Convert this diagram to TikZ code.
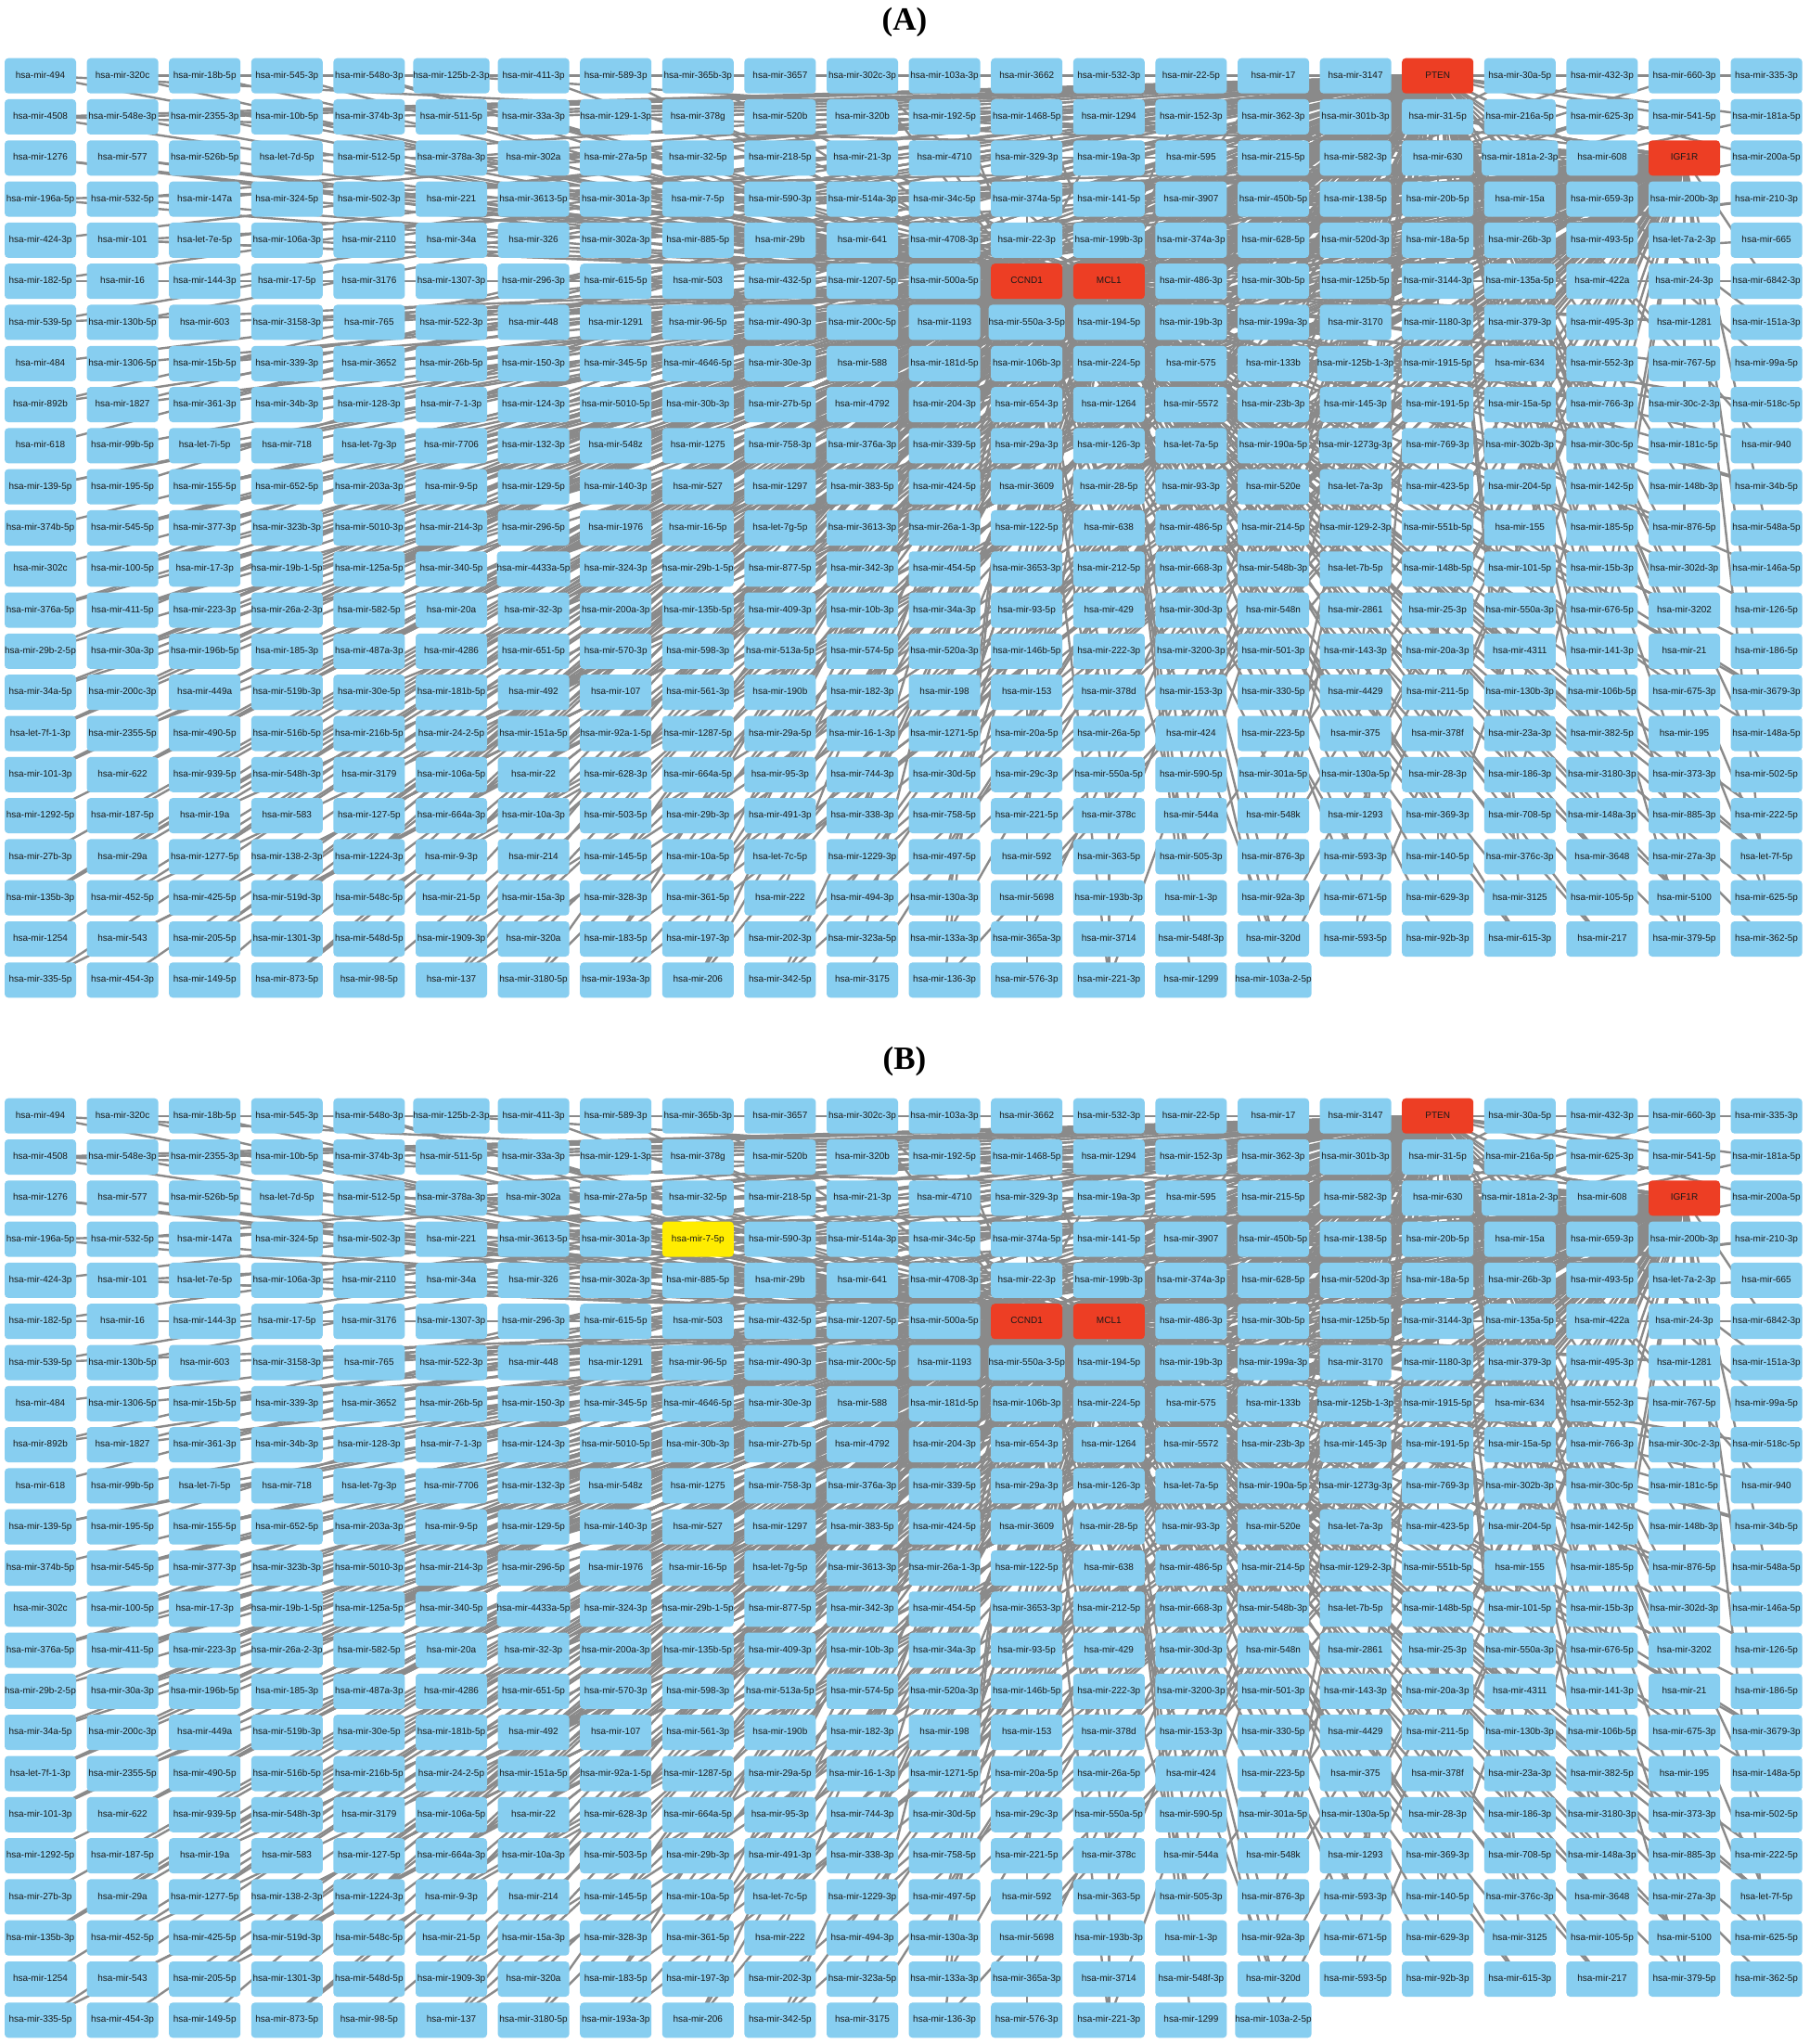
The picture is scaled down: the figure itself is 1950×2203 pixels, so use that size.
\documentclass[tikz,border=0pt]{standalone}
\usepackage{fontspec}
\setmainfont{Liberation Sans}
\newfontfamily\titlefont{Liberation Serif}
\usetikzlibrary{backgrounds}
\definecolor{mirblue}{RGB}{135,206,240}
\definecolor{tgtred}{RGB}{237,62,36}
\definecolor{hlyellow}{RGB}{255,236,0}
\definecolor{edgegray}{RGB}{138,138,138}
\def\mirlist{%
hsa-mir-494, hsa-mir-320c, hsa-mir-18b-5p, hsa-mir-545-3p, hsa-mir-548o-3p, hsa-mir-125b-2-3p, hsa-mir-411-3p, hsa-mir-589-3p, hsa-mir-365b-3p, hsa-mir-3657, hsa-mir-302c-3p, hsa-mir-103a-3p, hsa-mir-3662, hsa-mir-532-3p, hsa-mir-22-5p, hsa-mir-17, hsa-mir-3147, PTEN, hsa-mir-30a-5p, hsa-mir-432-3p, hsa-mir-660-3p, hsa-mir-335-3p,
hsa-mir-4508, hsa-mir-548e-3p, hsa-mir-2355-3p, hsa-mir-10b-5p, hsa-mir-374b-3p, hsa-mir-511-5p, hsa-mir-33a-3p, hsa-mir-129-1-3p, hsa-mir-378g, hsa-mir-520b, hsa-mir-320b, hsa-mir-192-5p, hsa-mir-1468-5p, hsa-mir-1294, hsa-mir-152-3p, hsa-mir-362-3p, hsa-mir-301b-3p, hsa-mir-31-5p, hsa-mir-216a-5p, hsa-mir-625-3p, hsa-mir-541-5p, hsa-mir-181a-5p,
hsa-mir-1276, hsa-mir-577, hsa-mir-526b-5p, hsa-let-7d-5p, hsa-mir-512-5p, hsa-mir-378a-3p, hsa-mir-302a, hsa-mir-27a-5p, hsa-mir-32-5p, hsa-mir-218-5p, hsa-mir-21-3p, hsa-mir-4710, hsa-mir-329-3p, hsa-mir-19a-3p, hsa-mir-595, hsa-mir-215-5p, hsa-mir-582-3p, hsa-mir-630, hsa-mir-181a-2-3p, hsa-mir-608, IGF1R, hsa-mir-200a-5p,
hsa-mir-196a-5p, hsa-mir-532-5p, hsa-mir-147a, hsa-mir-324-5p, hsa-mir-502-3p, hsa-mir-221, hsa-mir-3613-5p, hsa-mir-301a-3p, hsa-mir-7-5p, hsa-mir-590-3p, hsa-mir-514a-3p, hsa-mir-34c-5p, hsa-mir-374a-5p, hsa-mir-141-5p, hsa-mir-3907, hsa-mir-450b-5p, hsa-mir-138-5p, hsa-mir-20b-5p, hsa-mir-15a, hsa-mir-659-3p, hsa-mir-200b-3p, hsa-mir-210-3p,
hsa-mir-424-3p, hsa-mir-101, hsa-let-7e-5p, hsa-mir-106a-3p, hsa-mir-2110, hsa-mir-34a, hsa-mir-326, hsa-mir-302a-3p, hsa-mir-885-5p, hsa-mir-29b, hsa-mir-641, hsa-mir-4708-3p, hsa-mir-22-3p, hsa-mir-199b-3p, hsa-mir-374a-3p, hsa-mir-628-5p, hsa-mir-520d-3p, hsa-mir-18a-5p, hsa-mir-26b-3p, hsa-mir-493-5p, hsa-let-7a-2-3p, hsa-mir-665,
hsa-mir-182-5p, hsa-mir-16, hsa-mir-144-3p, hsa-mir-17-5p, hsa-mir-3176, hsa-mir-1307-3p, hsa-mir-296-3p, hsa-mir-615-5p, hsa-mir-503, hsa-mir-432-5p, hsa-mir-1207-5p, hsa-mir-500a-5p, CCND1, MCL1, hsa-mir-486-3p, hsa-mir-30b-5p, hsa-mir-125b-5p, hsa-mir-3144-3p, hsa-mir-135a-5p, hsa-mir-422a, hsa-mir-24-3p, hsa-mir-6842-3p,
hsa-mir-539-5p, hsa-mir-130b-5p, hsa-mir-603, hsa-mir-3158-3p, hsa-mir-765, hsa-mir-522-3p, hsa-mir-448, hsa-mir-1291, hsa-mir-96-5p, hsa-mir-490-3p, hsa-mir-200c-5p, hsa-mir-1193, hsa-mir-550a-3-5p, hsa-mir-194-5p, hsa-mir-19b-3p, hsa-mir-199a-3p, hsa-mir-3170, hsa-mir-1180-3p, hsa-mir-379-3p, hsa-mir-495-3p, hsa-mir-1281, hsa-mir-151a-3p,
hsa-mir-484, hsa-mir-1306-5p, hsa-mir-15b-5p, hsa-mir-339-3p, hsa-mir-3652, hsa-mir-26b-5p, hsa-mir-150-3p, hsa-mir-345-5p, hsa-mir-4646-5p, hsa-mir-30e-3p, hsa-mir-588, hsa-mir-181d-5p, hsa-mir-106b-3p, hsa-mir-224-5p, hsa-mir-575, hsa-mir-133b, hsa-mir-125b-1-3p, hsa-mir-1915-5p, hsa-mir-634, hsa-mir-552-3p, hsa-mir-767-5p, hsa-mir-99a-5p,
hsa-mir-892b, hsa-mir-1827, hsa-mir-361-3p, hsa-mir-34b-3p, hsa-mir-128-3p, hsa-mir-7-1-3p, hsa-mir-124-3p, hsa-mir-5010-5p, hsa-mir-30b-3p, hsa-mir-27b-5p, hsa-mir-4792, hsa-mir-204-3p, hsa-mir-654-3p, hsa-mir-1264, hsa-mir-5572, hsa-mir-23b-3p, hsa-mir-145-3p, hsa-mir-191-5p, hsa-mir-15a-5p, hsa-mir-766-3p, hsa-mir-30c-2-3p, hsa-mir-518c-5p,
hsa-mir-618, hsa-mir-99b-5p, hsa-let-7i-5p, hsa-mir-718, hsa-let-7g-3p, hsa-mir-7706, hsa-mir-132-3p, hsa-mir-548z, hsa-mir-1275, hsa-mir-758-3p, hsa-mir-376a-3p, hsa-mir-339-5p, hsa-mir-29a-3p, hsa-mir-126-3p, hsa-let-7a-5p, hsa-mir-190a-5p, hsa-mir-1273g-3p, hsa-mir-769-3p, hsa-mir-302b-3p, hsa-mir-30c-5p, hsa-mir-181c-5p, hsa-mir-940,
hsa-mir-139-5p, hsa-mir-195-5p, hsa-mir-155-5p, hsa-mir-652-5p, hsa-mir-203a-3p, hsa-mir-9-5p, hsa-mir-129-5p, hsa-mir-140-3p, hsa-mir-527, hsa-mir-1297, hsa-mir-383-5p, hsa-mir-424-5p, hsa-mir-3609, hsa-mir-28-5p, hsa-mir-93-3p, hsa-mir-520e, hsa-let-7a-3p, hsa-mir-423-5p, hsa-mir-204-5p, hsa-mir-142-5p, hsa-mir-148b-3p, hsa-mir-34b-5p,
hsa-mir-374b-5p, hsa-mir-545-5p, hsa-mir-377-3p, hsa-mir-323b-3p, hsa-mir-5010-3p, hsa-mir-214-3p, hsa-mir-296-5p, hsa-mir-1976, hsa-mir-16-5p, hsa-let-7g-5p, hsa-mir-3613-3p, hsa-mir-26a-1-3p, hsa-mir-122-5p, hsa-mir-638, hsa-mir-486-5p, hsa-mir-214-5p, hsa-mir-129-2-3p, hsa-mir-551b-5p, hsa-mir-155, hsa-mir-185-5p, hsa-mir-876-5p, hsa-mir-548a-5p,
hsa-mir-302c, hsa-mir-100-5p, hsa-mir-17-3p, hsa-mir-19b-1-5p, hsa-mir-125a-5p, hsa-mir-340-5p, hsa-mir-4433a-5p, hsa-mir-324-3p, hsa-mir-29b-1-5p, hsa-mir-877-5p, hsa-mir-342-3p, hsa-mir-454-5p, hsa-mir-3653-3p, hsa-mir-212-5p, hsa-mir-668-3p, hsa-mir-548b-3p, hsa-let-7b-5p, hsa-mir-148b-5p, hsa-mir-101-5p, hsa-mir-15b-3p, hsa-mir-302d-3p, hsa-mir-146a-5p,
hsa-mir-376a-5p, hsa-mir-411-5p, hsa-mir-223-3p, hsa-mir-26a-2-3p, hsa-mir-582-5p, hsa-mir-20a, hsa-mir-32-3p, hsa-mir-200a-3p, hsa-mir-135b-5p, hsa-mir-409-3p, hsa-mir-10b-3p, hsa-mir-34a-3p, hsa-mir-93-5p, hsa-mir-429, hsa-mir-30d-3p, hsa-mir-548n, hsa-mir-2861, hsa-mir-25-3p, hsa-mir-550a-3p, hsa-mir-676-5p, hsa-mir-3202, hsa-mir-126-5p,
hsa-mir-29b-2-5p, hsa-mir-30a-3p, hsa-mir-196b-5p, hsa-mir-185-3p, hsa-mir-487a-3p, hsa-mir-4286, hsa-mir-651-5p, hsa-mir-570-3p, hsa-mir-598-3p, hsa-mir-513a-5p, hsa-mir-574-5p, hsa-mir-520a-3p, hsa-mir-146b-5p, hsa-mir-222-3p, hsa-mir-3200-3p, hsa-mir-501-3p, hsa-mir-143-3p, hsa-mir-20a-3p, hsa-mir-4311, hsa-mir-141-3p, hsa-mir-21, hsa-mir-186-5p,
hsa-mir-34a-5p, hsa-mir-200c-3p, hsa-mir-449a, hsa-mir-519b-3p, hsa-mir-30e-5p, hsa-mir-181b-5p, hsa-mir-492, hsa-mir-107, hsa-mir-561-3p, hsa-mir-190b, hsa-mir-182-3p, hsa-mir-198, hsa-mir-153, hsa-mir-378d, hsa-mir-153-3p, hsa-mir-330-5p, hsa-mir-4429, hsa-mir-211-5p, hsa-mir-130b-3p, hsa-mir-106b-5p, hsa-mir-675-3p, hsa-mir-3679-3p,
hsa-let-7f-1-3p, hsa-mir-2355-5p, hsa-mir-490-5p, hsa-mir-516b-5p, hsa-mir-216b-5p, hsa-mir-24-2-5p, hsa-mir-151a-5p, hsa-mir-92a-1-5p, hsa-mir-1287-5p, hsa-mir-29a-5p, hsa-mir-16-1-3p, hsa-mir-1271-5p, hsa-mir-20a-5p, hsa-mir-26a-5p, hsa-mir-424, hsa-mir-223-5p, hsa-mir-375, hsa-mir-378f, hsa-mir-23a-3p, hsa-mir-382-5p, hsa-mir-195, hsa-mir-148a-5p,
hsa-mir-101-3p, hsa-mir-622, hsa-mir-939-5p, hsa-mir-548h-3p, hsa-mir-3179, hsa-mir-106a-5p, hsa-mir-22, hsa-mir-628-3p, hsa-mir-664a-5p, hsa-mir-95-3p, hsa-mir-744-3p, hsa-mir-30d-5p, hsa-mir-29c-3p, hsa-mir-550a-5p, hsa-mir-590-5p, hsa-mir-301a-5p, hsa-mir-130a-5p, hsa-mir-28-3p, hsa-mir-186-3p, hsa-mir-3180-3p, hsa-mir-373-3p, hsa-mir-502-5p,
hsa-mir-1292-5p, hsa-mir-187-5p, hsa-mir-19a, hsa-mir-583, hsa-mir-127-5p, hsa-mir-664a-3p, hsa-mir-10a-3p, hsa-mir-503-5p, hsa-mir-29b-3p, hsa-mir-491-3p, hsa-mir-338-3p, hsa-mir-758-5p, hsa-mir-221-5p, hsa-mir-378c, hsa-mir-544a, hsa-mir-548k, hsa-mir-1293, hsa-mir-369-3p, hsa-mir-708-5p, hsa-mir-148a-3p, hsa-mir-885-3p, hsa-mir-222-5p,
hsa-mir-27b-3p, hsa-mir-29a, hsa-mir-1277-5p, hsa-mir-138-2-3p, hsa-mir-1224-3p, hsa-mir-9-3p, hsa-mir-214, hsa-mir-145-5p, hsa-mir-10a-5p, hsa-let-7c-5p, hsa-mir-1229-3p, hsa-mir-497-5p, hsa-mir-592, hsa-mir-363-5p, hsa-mir-505-3p, hsa-mir-876-3p, hsa-mir-593-3p, hsa-mir-140-5p, hsa-mir-376c-3p, hsa-mir-3648, hsa-mir-27a-3p, hsa-let-7f-5p,
hsa-mir-135b-3p, hsa-mir-452-5p, hsa-mir-425-5p, hsa-mir-519d-3p, hsa-mir-548c-5p, hsa-mir-21-5p, hsa-mir-15a-3p, hsa-mir-328-3p, hsa-mir-361-5p, hsa-mir-222, hsa-mir-494-3p, hsa-mir-130a-3p, hsa-mir-5698, hsa-mir-193b-3p, hsa-mir-1-3p, hsa-mir-92a-3p, hsa-mir-671-5p, hsa-mir-629-3p, hsa-mir-3125, hsa-mir-105-5p, hsa-mir-5100, hsa-mir-625-5p,
hsa-mir-1254, hsa-mir-543, hsa-mir-205-5p, hsa-mir-1301-3p, hsa-mir-548d-5p, hsa-mir-1909-3p, hsa-mir-320a, hsa-mir-183-5p, hsa-mir-197-3p, hsa-mir-202-3p, hsa-mir-323a-5p, hsa-mir-133a-3p, hsa-mir-365a-3p, hsa-mir-3714, hsa-mir-548f-3p, hsa-mir-320d, hsa-mir-593-5p, hsa-mir-92b-3p, hsa-mir-615-3p, hsa-mir-217, hsa-mir-379-5p, hsa-mir-362-5p,
hsa-mir-335-5p, hsa-mir-454-3p, hsa-mir-149-5p, hsa-mir-873-5p, hsa-mir-98-5p, hsa-mir-137, hsa-mir-3180-5p, hsa-mir-193a-3p, hsa-mir-206, hsa-mir-342-5p, hsa-mir-3175, hsa-mir-136-3p, hsa-mir-576-3p, hsa-mir-221-3p, hsa-mir-1299, hsa-mir-103a-2-5p}
% #1 = panel prefix, #2 = y of first row
\newcommand\mirpanel[2]{%
  \foreach \lab [count=\k from 0] in \mirlist {%
    \pgfmathtruncatemacro\rr{div(\k,22)}%
    \pgfmathtruncatemacro\cc{mod(\k,22)}%
    \def\sty{mir}%
    \ifnum\k=17 \def\sty{tgt}\fi
    \ifnum\k=64 \def\sty{tgt}\fi
    \ifnum\k=122 \def\sty{tgt}\fi
    \ifnum\k=123 \def\sty{tgt}\fi
    \ifnum\k=74 \ifx#1B\def\sty{hl}\fi\fi
    \node[\sty] (#1-\k) at ({43.5+88.6*\cc},{#2+44.3*\rr}) {\lab};
  }%
}
\newcommand\miredges[1]{%
  \pgfmathsetseed{20240}%
  \foreach \k in {0,...,499} {%
    \pgfmathtruncatemacro\istgt{(\k==17)||(\k==64)||(\k==122)||(\k==123)}%
    \ifnum\istgt=0
      \pgfmathrandominteger{\ra}{0}{99}%
      \pgfmathtruncatemacro\ia{\ra<30 ? 0 : (\ra<58 ? 1 : (\ra<84 ? 2 : 3))}%
      \pgfmathtruncatemacro\ta{{122,123,17,64}[\ia]}%
      \draw[mirlink] (#1-\k.center) -- (#1-\ta.center);
      \pgfmathrandominteger{\rb}{0}{99}%
      \pgfmathrandominteger{\rc}{0}{99}%
      \ifnum\rb<48
        \pgfmathtruncatemacro\ib{mod(\ia+1+mod(\rc,3),4)}%
        \pgfmathtruncatemacro\tb{{122,123,17,64}[\ib]}%
        \draw[mirlink] (#1-\k.center) -- (#1-\tb.center);
        \ifnum\rb<14
          \pgfmathtruncatemacro\ic{mod(\ib+1+mod(\rc,2),4)}%
          \pgfmathtruncatemacro\tc{{122,123,17,64}[\ic]}%
          \draw[mirlink] (#1-\k.center) -- (#1-\tc.center);
        \fi
      \fi
    \fi
  }%
}
\begin{document}
\begin{tikzpicture}[x=0.5pt,y=-0.5pt,
  mir/.style={fill=mirblue, rounded corners=2pt, minimum width=38.5pt,
    minimum height=19pt, inner sep=0pt, text=black!90,
    text height=3.7pt, text depth=1.1pt,
    font=\fontsize{5}{6}\selectfont},
  tgt/.style={mir, fill=tgtred},
  hl/.style={mir, fill=hlyellow},
  mirlink/.style={draw=edgegray, line width=1.2pt},
  paneltitle/.style={font=\titlefont\bfseries\fontsize{17.5}{20}\selectfont}]
\useasboundingbox (0,0) rectangle (1950,2203);
\node[paneltitle] (titleA) at (975,24) {(A)};
\node[paneltitle] (titleB) at (975,1144) {(B)};
\mirpanel{A}{81.7}
\mirpanel{B}{1202.7}
\begin{scope}[on background layer]
\fill[white] (0,0) rectangle (1950,2203);
\miredges{A}
\miredges{B}
\end{scope}
\end{tikzpicture}
\end{document}
